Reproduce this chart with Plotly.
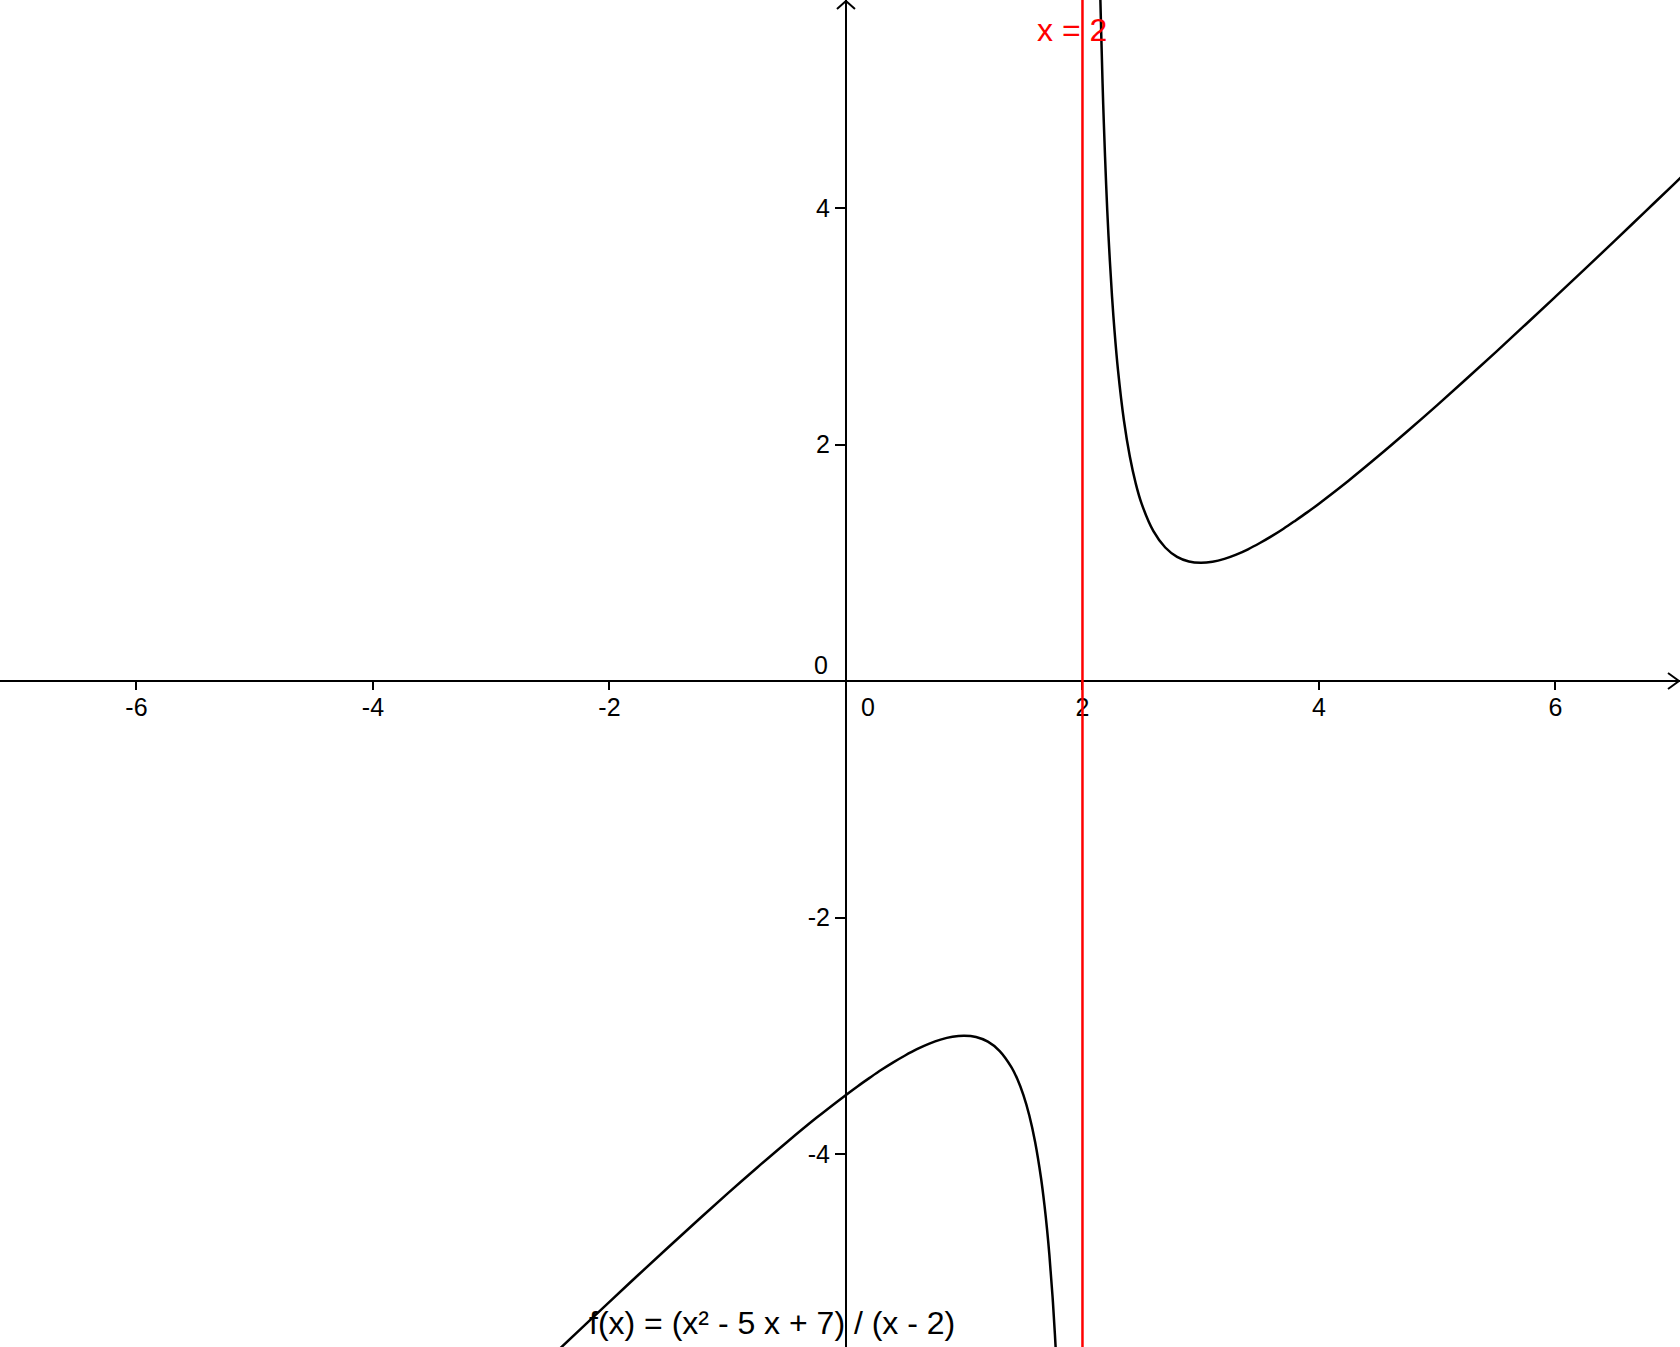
import plotly.graph_objects as go

# ---- data ----
left_x = [-2.6, -2.4, -2.2, -2.0, -1.75, -1.5, -1.25, -1.0, -0.75, -0.5, -0.25, 0.0, 0.1, 0.2, 0.3,
          0.4, 0.5, 0.6, 0.7, 0.8, 0.9, 1.0, 1.1, 1.2, 1.3, 1.4, 1.45, 1.5, 1.55, 1.6, 1.65, 1.68,
          1.7, 1.72, 1.75, 1.78, 1.8]
left_y = [-5.817, -5.627, -5.438, -5.250, -5.017, -4.786, -4.558, -4.333, -4.114, -3.900, -3.694,
          -3.500, -3.426, -3.356, -3.288, -3.225, -3.167, -3.114, -3.069, -3.033, -3.009, -3.000,
          -3.011, -3.050, -3.129, -3.267, -3.368, -3.500, -3.672, -3.900, -4.207, -4.445, -4.633,
          -4.851, -5.250, -5.765, -6.200]

right_x = [2.14, 2.15, 2.17, 2.18, 2.2, 2.22, 2.25, 2.27, 2.3, 2.35, 2.4, 2.45, 2.5, 2.6, 2.7, 2.8,
           2.9, 3.0, 3.1, 3.2, 3.3, 3.4, 3.5, 3.6, 3.7, 3.8, 3.9, 4.0, 4.25, 4.5, 4.75, 5.0, 5.25,
           5.5, 5.75, 6.0, 6.25, 6.5, 6.75, 7.0, 7.2]
right_y = [6.283, 5.817, 5.052, 4.736, 4.200, 3.765, 3.250, 2.974, 2.633, 2.207, 1.900, 1.672,
           1.500, 1.267, 1.129, 1.050, 1.011, 1.000, 1.009, 1.033, 1.069, 1.114, 1.167, 1.225,
           1.288, 1.356, 1.426, 1.500, 1.694, 1.900, 2.114, 2.333, 2.558, 2.786, 3.017, 3.250,
           3.485, 3.722, 3.961, 4.200, 4.392]

asymptote_x = 2
x_tick_vals = [-6, -4, -2, 2, 4, 6]
x_tick_text = ["-6", "-4", "-2", "2", "4", "6"]
y_tick_vals = [-4, -2, 2, 4]
y_tick_text = ["-4", "-2", "2", "4"]

x_range = [-7.154, 7.053]
y_range = [-5.632, 5.759]

FONT = "Liberation Sans, Arial, sans-serif"

fig = go.Figure()
fig.add_trace(go.Scatter(x=left_x, y=left_y, mode="lines",
                         line=dict(color="black", width=2.5, shape="spline", smoothing=1),
                         hoverinfo="skip", showlegend=False))
fig.add_trace(go.Scatter(x=right_x, y=right_y, mode="lines",
                         line=dict(color="black", width=2.5, shape="spline", smoothing=1),
                         hoverinfo="skip", showlegend=False))

xpos = (0 - y_range[0]) / (y_range[1] - y_range[0])
ypos = (0 - x_range[0]) / (x_range[1] - x_range[0])

fig.update_layout(
    width=1680, height=1347,
    margin=dict(l=0, r=0, t=0, b=0, autoexpand=False),
    paper_bgcolor="white", plot_bgcolor="white",
    font=dict(family=FONT, color="black"),
    xaxis=dict(range=x_range, showgrid=False, zeroline=False, showline=True,
               linecolor="black", linewidth=2, ticks="outside", ticklen=8,
               tickwidth=2, tickcolor="black", tickvals=x_tick_vals, ticktext=x_tick_text,
               tickfont=dict(size=25, family=FONT, color="black"), ticklabelstandoff=-4,
               anchor="free", position=xpos, fixedrange=True, automargin=False),
    yaxis=dict(range=y_range, showgrid=False, zeroline=False, showline=True,
               linecolor="black", linewidth=2, ticks="outside", ticklen=10,
               tickwidth=2, tickcolor="black", tickvals=y_tick_vals, ticktext=y_tick_text,
               tickfont=dict(size=25, family=FONT, color="black"),
               anchor="free", position=ypos, fixedrange=True, automargin=False),
)

# axis arrow heads
fig.add_shape(type="path", xref="x", yref="y", xsizemode="pixel", ysizemode="pixel",
              xanchor=x_range[1], yanchor=0, path="M-12,8L-1,0L-12,-8",
              line=dict(color="black", width=2))
fig.add_shape(type="path", xref="x", yref="y", xsizemode="pixel", ysizemode="pixel",
              xanchor=0, yanchor=y_range[1], path="M-9,-9L0,-1L9,-9",
              line=dict(color="black", width=2))

# asymptote
fig.add_shape(type="line", xref="x", yref="paper", x0=asymptote_x, x1=asymptote_x, y0=0, y1=1,
              line=dict(color="#ff0000", width=2.5))

# origin labels
fig.add_annotation(x=0, y=0, xref="x", yref="y", text="0", showarrow=False,
                   xshift=-25, yshift=16, font=dict(size=25, family=FONT, color="black"))
fig.add_annotation(x=0, y=0, xref="x", yref="y", text="0", showarrow=False,
                   xshift=22, yshift=-26, font=dict(size=25, family=FONT, color="black"))

# asymptote label
fig.add_annotation(x=asymptote_x, y=1, xref="x", yref="paper", text="x = 2", showarrow=False,
                   xanchor="left", yanchor="middle", xshift=-47, yshift=-30,
                   font=dict(size=32, family=FONT, color="#ff0000"))

# function label
fig.add_annotation(x=587 / 1680, y=0, xref="paper", yref="paper",
                   text="f(x) = (x² - 5 x + 7) / (x - 2)", showarrow=False,
                   xanchor="left", yanchor="middle", yshift=24,
                   font=dict(size=32, family=FONT, color="black"))

fig.write_html("out.html", config={"displayModeBar": False},
               post_script="document.body.style.margin='0';document.body.style.overflow='hidden';")
